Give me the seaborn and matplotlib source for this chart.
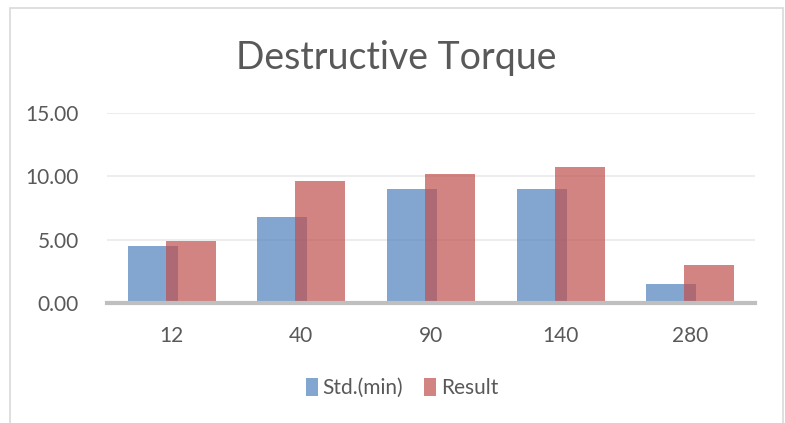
import matplotlib
matplotlib.use("Agg")
import matplotlib.pyplot as plt
import pandas as pd
import seaborn as sns
from matplotlib.patches import Rectangle

# datos
categories = ["12", "40", "90", "140", "280"]
std_min = [4.5, 6.8, 9.0, 9.0, 1.5]
result = [4.9, 9.6, 10.2, 10.75, 3.0]
series = ["Std.(min)", "Result"]
yticks = [0, 5, 10, 15]

df = pd.DataFrame({
    "cat": categories * 2,
    "valor": std_min + result,
    "serie": [series[0]] * len(categories) + [series[1]] * len(categories),
})

sns.set_style("white")
plt.rcParams["font.family"] = ["Lato", "DejaVu Sans"]
text_color = "#595959"

fig = plt.figure(figsize=(7.85, 4.23), dpi=100)
ax = fig.add_axes([0.136, 0.2844, 0.826, 0.4477])

sns.barplot(data=df, x="cat", y="valor", hue="serie", order=categories,
            hue_order=series, palette=["#4F81BD", "#C0504D"], saturation=1,
            width=0.585, gap=-0.32, alpha=0.7, linewidth=0, ax=ax)

ax.set_ylim(0, 15)
ax.set_xlim(-0.5, len(categories) - 0.5)
ax.set_yticks(yticks)
ax.set_yticklabels([f"{v:.2f}" for v in yticks])
ax.yaxis.grid(True, color="#EDEDED", lw=1.5)
ax.set_axisbelow(True)
for s in ["top", "right", "left"]:
    ax.spines[s].set_visible(False)
ax.spines["bottom"].set_color("#BFBFBF")
ax.spines["bottom"].set_linewidth(3)
ax.tick_params(axis="both", length=0, labelsize=15, colors=text_color)
ax.tick_params(axis="x", pad=17)
ax.tick_params(axis="y", pad=20)
ax.set_xlabel("")
ax.set_ylabel("")

ax.legend(loc="center", bbox_to_anchor=(0.512, 0.083), bbox_transform=fig.transFigure,
          ncol=2, frameon=False, fontsize=15, handlelength=0.6, handleheight=0.95,
          handletextpad=0.2, columnspacing=1.0, labelcolor=text_color)

fig.text(0.505, 0.862, "Destructive Torque", ha="center", va="center",
         fontsize=27, color=text_color)

# marco del grafico
fig.patches.append(Rectangle((0.013, -0.05), 0.985, 1.03, transform=fig.transFigure,
                             fill=False, edgecolor="#D9D9D9", lw=1.2))

fig.savefig("out.png", dpi=100)
